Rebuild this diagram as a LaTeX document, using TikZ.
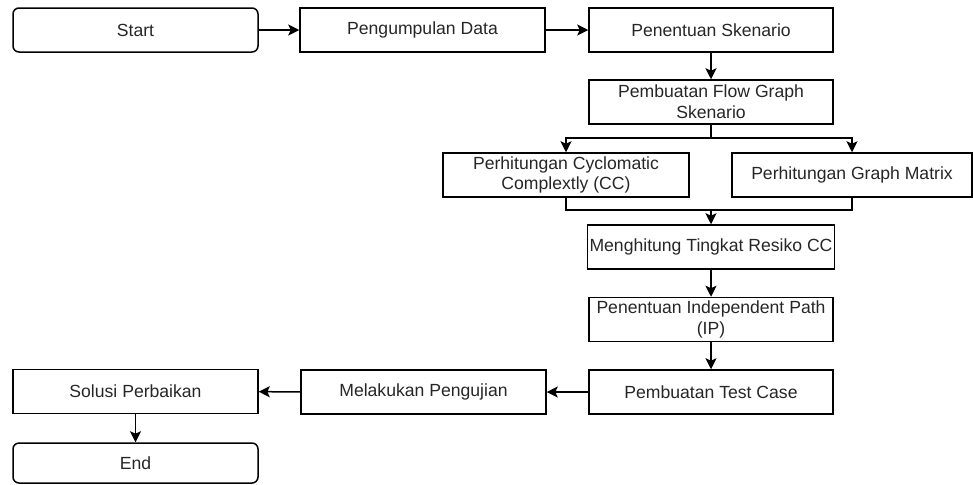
\documentclass[tikz,border=0pt]{standalone}
\usepackage{fontspec}
\setmainfont{Liberation Sans}
\usetikzlibrary{positioning, arrows.meta}

\begin{document}
\begin{tikzpicture}[
  x=0.5pt, y=-0.5pt,
  box/.style={draw, line width=0.75pt, minimum width=#1*0.5pt, minimum height=22pt,
    inner sep=1pt, align=center, font=\fontsize{8.8}{10.4}\selectfont, text=black!85},
  box/.default=245,
  term/.style={box=245, rounded corners=3pt},
  flow/.style={->, line width=0.75pt},
  >={Stealth[length=5.5pt, width=5.5pt, inset=1.2pt]}
]
\useasboundingbox (0,0) rectangle (973,484);

% Top row
\node[term] (start) at (135.5,30) {Start};
\node[box] (data) at (422.5,30) {Pengumpulan Data};
\node[box=244] (skenario) at (711,30) {Penentuan Skenario};

% Middle column
\node[box=244] (graph) at (711,102) {Pembuatan Flow Graph\\Skenario};
\node[box=246] (cc) at (566,175) {Perhitungan Cyclomatic\\Complextly (CC)};
\node[box=240] (matrix) at (852,175) {Perhitungan Graph Matrix};
\node[box=244] (resiko) at (711,247) {Menghitung Tingkat Resiko CC};
\node[box=244] (path) at (711,319.5) {Penentuan Independent Path\\(IP)};
\node[box=244] (testcase) at (711,392) {Pembuatan Test Case};

% Bottom row
\node[box] (uji) at (423.5,392) {Melakukan Pengujian};
\node[box] (solusi) at (135.5,391.5) {Solusi Perbaikan};
\node[term, minimum height=20pt] (end) at (135.5,463) {End};

% Connectors
\draw[flow] (start) -- (data);
\draw[flow] (data) -- (skenario);
\draw[flow] (skenario) -- (graph);

\coordinate (split) at (711,138);
\draw[line width=0.75pt] (graph.south) -- (split);
\draw[flow] (split) -| (cc.north);
\draw[flow] (split) -| (matrix.north);

\coordinate (merge) at (711,210);
\draw[line width=0.75pt] (cc.south) |- (merge);
\draw[line width=0.75pt] (matrix.south) |- (merge);
\draw[flow] (merge) -- (resiko.north);

\draw[flow] (resiko) -- (path);
\draw[flow] (path) -- (testcase);
\draw[flow] (testcase) -- (uji);
\draw[flow] (uji) -- (solusi);
\draw[flow] (solusi) -- (end);

\end{tikzpicture}
\end{document}
